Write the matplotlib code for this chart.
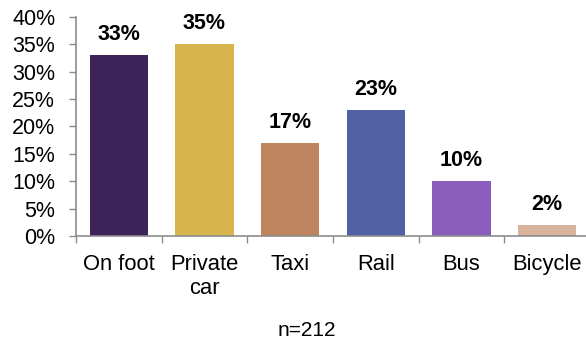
import numpy as np
import matplotlib.pyplot as plt
from matplotlib.ticker import FixedLocator

modes = ['On foot', 'Private\ncar', 'Taxi', 'Rail', 'Bus', 'Bicycle']
share = [33, 35, 17, 23, 10, 2]
colors = ['#3d2458', '#d8b44c', '#be845e', '#5261a4', '#8a5cbb', '#d9b49c']
y_ticks = [0, 5, 10, 15, 20, 25, 30, 35, 40]
sample_note = 'n=212'

plt.rcParams['font.family'] = ['Liberation Sans', 'DejaVu Sans']
axis_gray = '#8c8c8c'

fig = plt.figure(figsize=(5.86, 3.43), dpi=100)
ax = fig.add_axes([76 / 586, 107 / 343, 514 / 586, 219 / 343])

x = np.arange(len(modes))
ax.bar(x, share, width=0.68, color=colors)

for xi, v in zip(x, share):
    ax.annotate(f'{v}%', (xi, v), xytext=(0, 11), textcoords='offset points',
                ha='center', va='baseline', fontsize=15.5, fontweight='bold')

ax.set_xlim(-0.5, len(modes) - 0.5)
ax.set_ylim(0, 40)
ax.set_yticks(y_ticks)
ax.set_yticklabels([f'{t}%' for t in y_ticks], fontsize=15.5)
ax.set_xticks(x)
ax.set_xticklabels(modes, fontsize=15.8, linespacing=1.2)
ax.xaxis.set_minor_locator(FixedLocator(np.arange(-0.5, len(modes), 1.0)))

ax.tick_params(axis='x', which='major', length=0, pad=13)
ax.tick_params(axis='x', which='minor', length=5, width=1, color=axis_gray)
ax.tick_params(axis='y', length=5, width=1, color=axis_gray, pad=10)

for side in ['top', 'right']:
    ax.spines[side].set_visible(False)
for side in ['left', 'bottom']:
    ax.spines[side].set_color(axis_gray)
    ax.spines[side].set_linewidth(1.2)

fig.text(307 / 586, 1 - 330 / 343, sample_note, ha='center', va='center', fontsize=15)

fig.savefig('out.png', dpi=100)
